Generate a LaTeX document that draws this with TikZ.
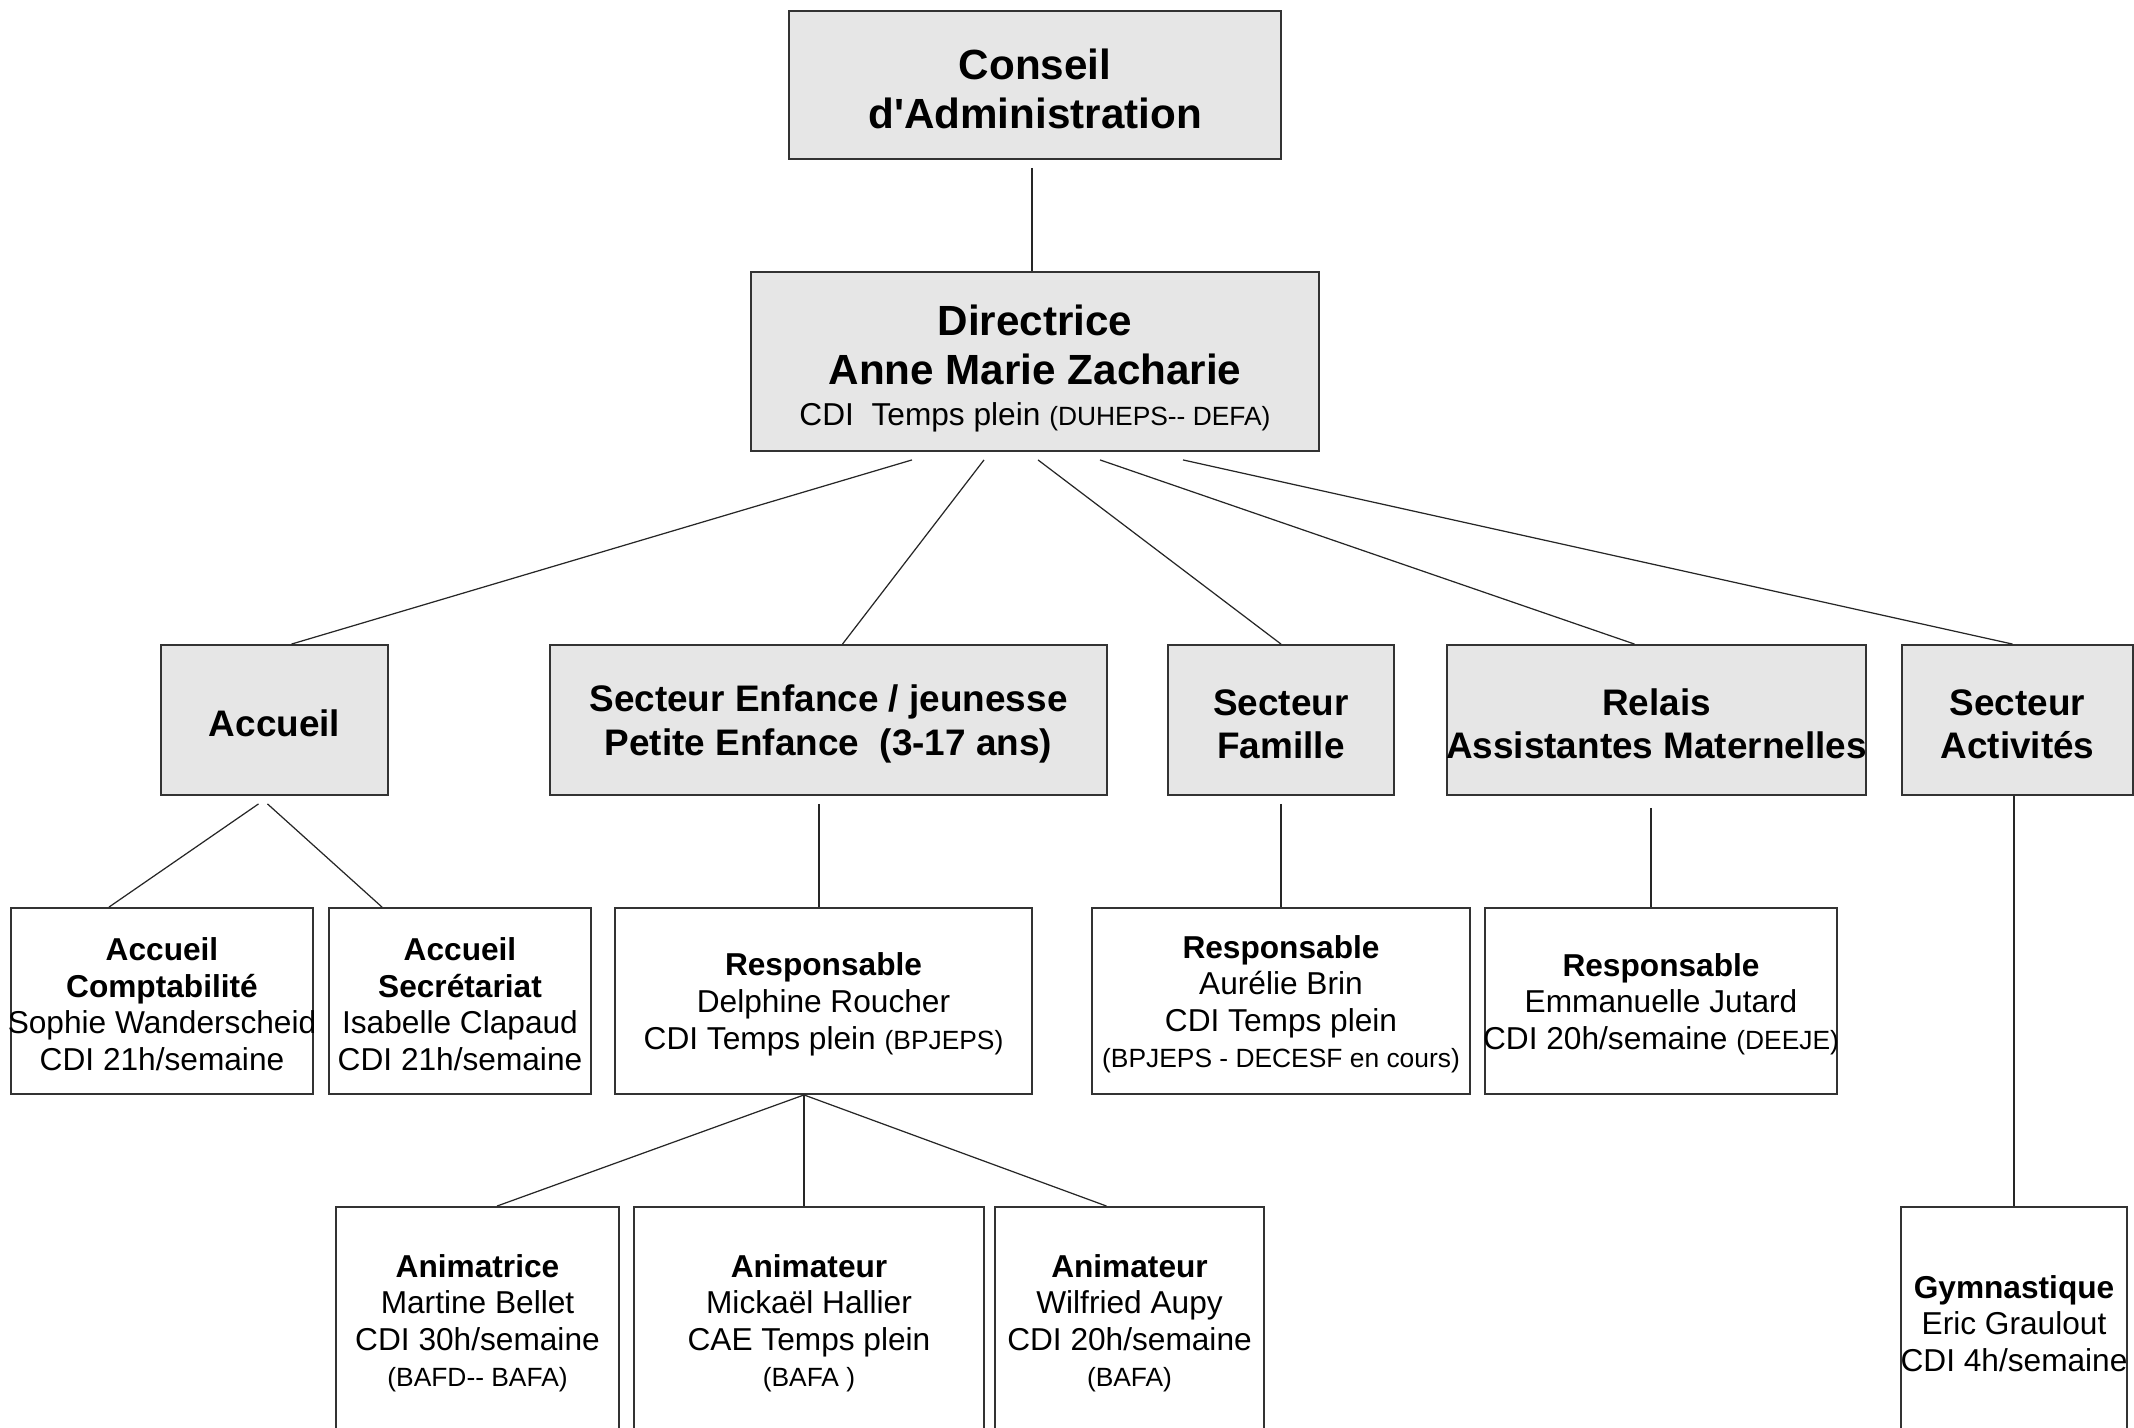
\documentclass[tikz,border=0pt]{standalone}
\usepackage{fontspec}
\setmainfont{Liberation Sans}[Ligatures=TeXOff]
\usetikzlibrary{calc}
\definecolor{boxgray}{RGB}{230,230,230}
\newcommand{\wide}[1]{\makebox[0pt]{#1}}
\newcommand{\petit}{\fontsize{7.5}{9}\selectfont}

\begin{document}
\begin{tikzpicture}[x=0.01cm,y=-0.01cm,
  boite/.style={draw=black!80, line width=0.5pt, inner sep=0pt, align=flush center, execute at begin node={\rule{0pt}{0.93em}}},
  cabox/.style={boite, fill=boxgray, font=\fontsize{12}{13.9}\selectfont\bfseries},
  secteur/.style={boite, fill=boxgray, minimum height=1.5cm, font=\fontsize{10.5}{12.4}\selectfont\bfseries},
  poste/.style={boite, font=\fontsize{9}{10.4}\selectfont},
  lien/.style={draw=black!85, line width=0.35pt}
]
\useasboundingbox (0,0) rectangle (2134,1428);

% conseil et direction
\node[cabox, text width=4.92cm, minimum height=1.48cm] (ca) at (1035,85) {Conseil\\d'Administration};
\node[cabox, text width=5.68cm, minimum height=1.79cm, execute at begin node={\rule{0pt}{1.05em}}] (dir) at (1035,361.5) {Directrice\\Anne Marie Zacharie\\[-2.3pt]\mdseries\fontsize{9}{13.4}\selectfont CDI\ \ Temps plein {\petit(DUHEPS-- DEFA)}};

% secteurs
\node[secteur, text width=2.27cm] (accueil) at (274.5,720) {Accueil};
\node[secteur, text width=5.57cm] (enfance) at (828.5,720) {Secteur Enfance / jeunesse\\Petite Enfance\ \ (3-17 ans)};
\node[secteur, text width=2.26cm] (famille) at (1281,720) {Secteur\\Famille};
\node[secteur, text width=4.19cm] (relais) at (1656.5,720) {Relais\\\wide{Assistantes Maternelles}};
\node[secteur, text width=2.31cm] (activites) at (2017.5,720) {Secteur\\Activités};

% postes
\node[poste, text width=3.02cm, minimum height=1.86cm] (compta) at (162,1001) {\textbf{Accueil}\\\textbf{Comptabilité}\\\wide{Sophie Wanderscheid}\\CDI 21h/semaine};
\node[poste, text width=2.62cm, minimum height=1.86cm] (secr) at (460,1001) {\textbf{Accueil}\\\textbf{Secrétariat}\\Isabelle Clapaud\\CDI 21h/semaine};
\node[poste, text width=4.17cm, minimum height=1.86cm] (respEnf) at (823.5,1001) {\textbf{Responsable}\\Delphine Roucher\\CDI Temps plein {\petit(BPJEPS)}};
\node[poste, text width=3.78cm, minimum height=1.86cm] (respFam) at (1281,1001) {\textbf{Responsable}\\Aurélie Brin\\CDI Temps plein\\{\petit(BPJEPS - DECESF en cours)}};
\node[poste, text width=3.52cm, minimum height=1.86cm] (respRel) at (1661,1001) {\textbf{Responsable}\\Emmanuelle Jutard\\\wide{CDI 20h/semaine {\petit(DEEJE)}}};

% animateurs
\node[poste, text width=2.83cm, minimum height=2.26cm] (anim1) at (477.5,1320) {\textbf{Animatrice}\\Martine Bellet\\CDI 30h/semaine\\{\petit(BAFD-- BAFA)}};
\node[poste, text width=3.50cm, minimum height=2.26cm] (anim2) at (809,1320) {\textbf{Animateur}\\Mickaël Hallier\\CAE Temps plein\\{\petit(BAFA )}};
\node[poste, text width=2.69cm, minimum height=2.26cm] (anim3) at (1129.5,1320) {\textbf{Animateur}\\Wilfried Aupy\\CDI 20h/semaine\\{\petit(BAFA)}};
\node[poste, text width=2.26cm, minimum height=2.26cm] (gym) at (2014,1320) {\textbf{Gymnastique}\\Eric Graulout\\\wide{CDI 4h/semaine}};

% liens
\draw[lien] ($(ca.south)+(-3,8)$) -- ($(dir.north)+(-3,0)$);
\foreach \dx/\cible/\ex in {-123/accueil/17, -51/enfance/14, 3/famille/0, 65/relais/-22, 148/activites/-5}
  \draw[lien] ($(dir.south)+(\dx,8)$) -- ($(\cible.north)+(\ex,0)$);

\draw[lien] ($(accueil.south)+(-16,8)$) -- ($(compta.north)+(-53,0)$);
\draw[lien] ($(accueil.south)+(-7,8)$) -- ($(secr.north)+(-78,0)$);
\draw[lien] ($(enfance.south)+(-9.5,8)$) -- ($(respEnf.north)+(-4.5,0)$);
\draw[lien] ($(famille.south)+(0,8)$) -- (respFam.north);
\draw[lien] ($(relais.south)+(-5.5,12)$) -- ($(respRel.north)+(-10,0)$);
\draw[lien] ($(activites.south)+(-3.5,0)$) -- (gym.north);

\foreach \cible/\ex in {anim1/19.5, anim2/-5, anim3/-23}
  \draw[lien] ($(respEnf.south)+(-19.5,0)$) -- ($(\cible.north)+(\ex,0)$);
\end{tikzpicture}
\end{document}
